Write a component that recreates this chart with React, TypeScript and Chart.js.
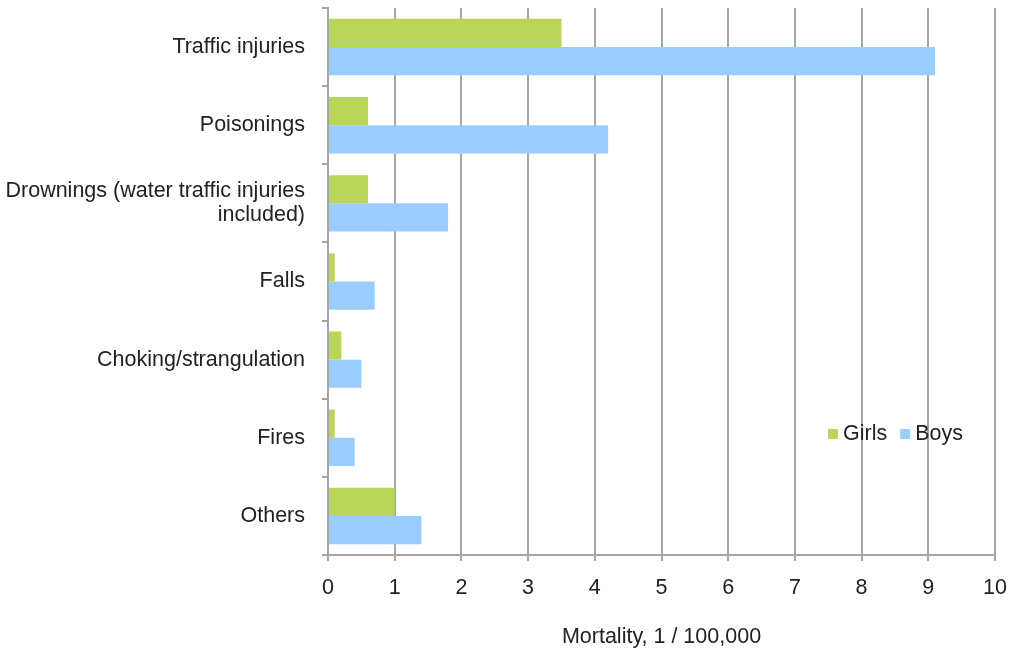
import React, { useEffect, useRef } from "react";
import { Chart, registerables } from "chart.js";

Chart.register(...registerables);

const categories: (string | string[])[] = [
  "Traffic injuries",
  "Poisonings",
  ["Drownings (water traffic injuries", "included)"],
  "Falls",
  "Choking/strangulation",
  "Fires",
  "Others",
];
const girls = [3.5, 0.6, 0.6, 0.1, 0.2, 0.1, 1.0];
const boys = [9.1, 4.2, 1.8, 0.7, 0.5, 0.4, 1.4];
const seriesNames = ["Girls", "Boys"];
const seriesColors = ["#B9D55A", "#99CCFF"];
const axisTitle = "Mortality, 1 / 100,000";

const FONT = "'Liberation Sans', Arial, sans-serif";
const TEXT = "#222222";
const GRID = "#A6A6A6";
const FS = 21.5;

const legendPlugin = {
  id: "insideLegend",
  afterDraw(chart: any) {
    const ctx = chart.ctx;
    ctx.save();
    ctx.font = `${FS}px ${FONT}`;
    ctx.textBaseline = "middle";
    ctx.textAlign = "left";
    let x = 828;
    const y = 434;
    chart.data.datasets.forEach((ds: any) => {
      ctx.fillStyle = ds.backgroundColor;
      ctx.fillRect(x, y - 5, 10, 10);
      ctx.fillStyle = TEXT;
      ctx.fillText(ds.label, x + 15, y);
      x += 15 + ctx.measureText(ds.label).width + 13;
    });
    ctx.restore();
  },
};

export default function App() {
  const ref = useRef<HTMLCanvasElement>(null);
  useEffect(() => {
    document.body.style.margin = "0";
    const chart = new Chart(ref.current!, {
      type: "bar",
      data: {
        labels: categories,
        datasets: [
          { label: seriesNames[0], data: girls, backgroundColor: seriesColors[0] },
          { label: seriesNames[1], data: boys, backgroundColor: seriesColors[1] },
        ],
      },
      plugins: [legendPlugin],
      options: {
        indexAxis: "y",
        responsive: false,
        animation: false,
        categoryPercentage: 0.722,
        barPercentage: 1,
        layout: { padding: { top: 8, right: 20, left: 0, bottom: 0 } },
        plugins: { legend: { display: false }, tooltip: { enabled: false } },
        scales: {
          y: {
            type: "category",
            afterFit: (s: any) => {
              s.width = 328;
              s.paddingTop = 0;
              s.paddingBottom = 0;
            },
            grid: {
              display: true,
              drawOnChartArea: false,
              drawTicks: true,
              tickLength: 6,
              offset: true,
              color: GRID,
              lineWidth: 2,
            },
            border: { display: true, color: GRID, width: 2 },
            ticks: {
              color: TEXT,
              font: { family: FONT, size: FS, lineHeight: 1.12 },
              padding: 17,
            },
          },
          x: {
            type: "linear",
            min: 0,
            max: 10,
            afterFit: (s: any) => {
              s.height = 95;
              s.paddingLeft = 0;
              s.paddingRight = 0;
            },
            grid: { color: GRID, lineWidth: 2, tickLength: 6, drawTicks: true },
            border: { display: true, color: GRID, width: 2 },
            ticks: {
              stepSize: 1,
              color: TEXT,
              font: { family: FONT, size: FS },
              padding: 14,
            },
            title: {
              display: true,
              text: axisTitle,
              color: TEXT,
              font: { family: FONT, size: FS },
              padding: { top: 0, bottom: 0 },
            },
          },
        },
      },
    } as any);
    return () => chart.destroy();
  }, []);
  return <canvas ref={ref} width={1015} height={650} style={{ display: "block" }} />;
}
